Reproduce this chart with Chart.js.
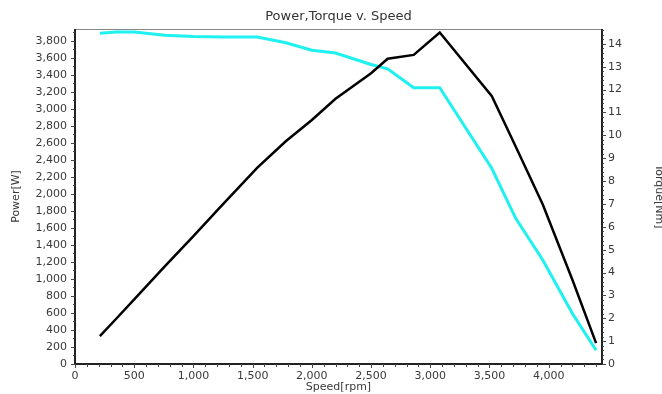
<!DOCTYPE html>
<html>
<head>
<meta charset="utf-8">
<script src="https://cdn.jsdelivr.net/npm/chart.js@4"></script>
<style>
  html, body { margin: 0; padding: 0; background: #fff; }
  #wrap { width: 662px; height: 394px; }
</style>
</head>
<body>
<div id="wrap"><canvas id="powerChart" width="662" height="394"></canvas></div>
<script>
const chartTitle = "Power,Torque v. Speed";
const speedRpm = [210, 350, 500, 760, 1000, 1250, 1540, 1780, 2000, 2200, 2500, 2640, 2860, 3080, 3520, 3720, 3950, 4200, 4400];
const powerW   = [327, 535, 760, 1150, 1505, 1880, 2310, 2620, 2870, 3120, 3420, 3590, 3635, 3898, 3150, 2560, 1875, 990, 245];
const torqueNm = [14.46, 14.52, 14.52, 14.38, 14.32, 14.30, 14.30, 14.05, 13.72, 13.60, 13.10, 12.91, 12.08, 12.08, 8.55, 6.38, 4.55, 2.21, 0.60];

const speedTicks  = [0, 500, 1000, 1500, 2000, 2500, 3000, 3500, 4000];
const powerTicks  = [0, 200, 400, 600, 800, 1000, 1200, 1400, 1600, 1800, 2000, 2200, 2400, 2600, 2800, 3000, 3200, 3400, 3600, 3800];
const torqueTicks = [0, 1, 2, 3, 4, 5, 6, 7, 8, 9, 10, 11, 12, 13, 14];

const font = "'DejaVu Sans', Verdana, sans-serif";
const textColor = '#3a3a3a';

function toPoints(ys) {
    return speedRpm.map((s, i) => ({ x: s, y: ys[i] }));
}

function fixedTicks(values) {
    return scale => { scale.ticks = values.map(v => ({ value: v })); };
}

// title centred over the plot, frame and the small tick marks
const framePlugin = {
    id: 'frame',
    afterDraw(chart) {
        const { ctx, chartArea: a, scales } = chart;
        ctx.save();
        ctx.fillStyle = '#333';
        ctx.font = `13px ${font}`;
        ctx.textAlign = 'center';
        ctx.textBaseline = 'middle';
        ctx.fillText(chartTitle, (a.left + a.right) / 2, 17);

        ctx.strokeStyle = '#888';
        ctx.lineWidth = 1;
        ctx.beginPath();
        ctx.moveTo(a.left, a.top + 0.5);
        ctx.lineTo(a.right, a.top + 0.5);
        ctx.stroke();

        ctx.strokeStyle = '#222';
        ctx.lineWidth = 2;
        ctx.beginPath();
        ctx.moveTo(a.left, a.top);
        ctx.lineTo(a.left, a.bottom);
        ctx.lineTo(a.right, a.bottom);
        ctx.moveTo(a.right, a.top);
        ctx.lineTo(a.right, a.bottom);
        ctx.stroke();

        ctx.lineWidth = 1;
        ctx.strokeStyle = '#444';
        ctx.beginPath();
        const x = scales.x, yl = scales.y, yr = scales.y1;
        for (let v = 0; v <= x.max; v += 100) {
            const px = Math.round(x.getPixelForValue(v)) + 0.5;
            const len = v % 500 === 0 ? 4 : 3;
            ctx.moveTo(px, a.bottom);
            ctx.lineTo(px, a.bottom + len);
        }
        for (let v = 0; v <= yl.max; v += 100) {
            const py = Math.round(yl.getPixelForValue(v)) + 0.5;
            const len = v % 200 === 0 ? 4 : 2;
            ctx.moveTo(a.left, py);
            ctx.lineTo(a.left - len, py);
        }
        for (let i = 0; i <= yr.max * 5; i++) {
            const py = Math.round(yr.getPixelForValue(i / 5)) + 0.5;
            const len = i % 5 === 0 ? 4 : 2;
            ctx.moveTo(a.right, py);
            ctx.lineTo(a.right + len, py);
        }
        ctx.stroke();
        ctx.restore();
    }
};

const tickFont = { family: font, size: 11 };

new Chart(document.getElementById('powerChart'), {
    type: 'scatter',
    data: {
        datasets: [
            {
                label: 'Power',
                data: toPoints(powerW),
                yAxisID: 'y',
                showLine: true,
                borderColor: '#000000',
                borderWidth: 2.5,
                pointRadius: 0,
                tension: 0
            },
            {
                label: 'Torque',
                data: toPoints(torqueNm),
                yAxisID: 'y1',
                showLine: true,
                borderColor: '#1ff0f0',
                borderWidth: 3,
                pointRadius: 0,
                tension: 0
            }
        ]
    },
    options: {
        responsive: false,
        animation: false,
        layout: { padding: { top: 29, left: 0, right: 0, bottom: 0 } },
        plugins: {
            legend: { display: false },
            tooltip: { enabled: false },
            title: { display: false }
        },
        scales: {
            x: {
                type: 'linear',
                min: 0,
                max: 4450,
                grid: { display: false, drawTicks: false },
                border: { display: false },
                afterBuildTicks: fixedTicks(speedTicks),
                ticks: {
                    autoSkip: false,
                    maxRotation: 0,
                    minRotation: 0,
                    padding: 6,
                    color: textColor,
                    font: tickFont,
                    callback: v => v.toLocaleString('en-US')
                },
                title: {
                    display: true,
                    text: 'Speed[rpm]',
                    color: textColor,
                    font: tickFont,
                    padding: { top: 0, bottom: 0 }
                },
                afterFit: s => { s.height = 30; }
            },
            y: {
                type: 'linear',
                position: 'left',
                min: 0,
                max: 3940,
                grid: { display: false, drawTicks: false },
                border: { display: false },
                afterBuildTicks: fixedTicks(powerTicks),
                ticks: {
                    autoSkip: false,
                    padding: 8,
                    color: textColor,
                    font: tickFont,
                    callback: v => v.toLocaleString('en-US')
                },
                title: {
                    display: true,
                    text: 'Power[W]',
                    color: textColor,
                    font: tickFont,
                    padding: { top: 10, bottom: 0 }
                },
                afterFit: s => { s.width = 75; }
            },
            y1: {
                type: 'linear',
                position: 'right',
                min: 0,
                max: 14.65,
                grid: { display: false, drawTicks: false },
                border: { display: false },
                afterBuildTicks: fixedTicks(torqueTicks),
                ticks: {
                    autoSkip: false,
                    padding: 6,
                    color: textColor,
                    font: tickFont
                },
                title: {
                    display: true,
                    text: 'Torque[Nm]',
                    color: textColor,
                    font: tickFont,
                    padding: { top: -3, bottom: 0 }
                },
                afterFit: s => { s.width = 60; }
            }
        }
    },
    plugins: [framePlugin]
});
</script>
</body>
</html>
